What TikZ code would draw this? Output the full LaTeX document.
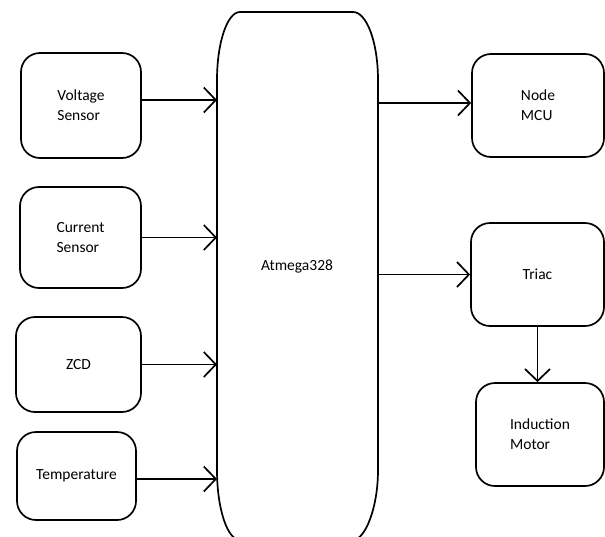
\documentclass[tikz,border=0pt]{standalone}
\usepackage{fontspec}
\setmainfont{Carlito}
\usetikzlibrary{arrows.meta}

\begin{document}
\begin{tikzpicture}[x=1pt,y=-1pt,line width=1.7pt,
  blk/.style={draw,rounded corners=19pt,align=left,inner sep=0pt,
    font=\fontsize{15.5}{20}\selectfont},
  arr/.style={-{Straight Barb[length=12pt,width=25pt]}}]
  \useasboundingbox (0,0) rectangle (605,536);
  % inputs
  \node[blk,minimum width=120,minimum height=105] (volt) at (81,105.5) {Voltage\\Sensor};
  \node[blk,minimum width=121,minimum height=101] (curr) at (80.5,237.5) {Current\\Sensor};
  \node[blk,minimum width=125,minimum height=95] (zcd) at (78.5,364.5) {ZCD};
  \node[blk,minimum width=119,minimum height=88] (temp) at (76.5,476) {Temperature};
  % controller
  \draw (217,80) .. controls (217,42.5) and (227.3,12) .. (240,12) -- (353,12)
    .. controls (366.8,12) and (378,42.5) .. (378,80) -- (378,470)
    .. controls (378,508.6) and (364.8,540) .. (353,540) -- (240,540)
    .. controls (227.3,540) and (217,508.6) .. (217,470) -- cycle;
  \node[font=\fontsize{15.5}{20}\selectfont] (atm) at (297,267) {Atmega328};
  \coordinate (aw) at (217,268);
  \coordinate (ae) at (378,268);
  % outputs
  \node[blk,minimum width=132,minimum height=103] (nmcu) at (538,105.5) {Node\\MCU};
  \node[blk,minimum width=133,minimum height=103] (triac) at (537.5,274.5) {Triac};
  \node[blk,minimum width=128,minimum height=103] (motor) at (540,434.5) {Induction\\Motor};
  % links
  \draw[arr] ([yshift=5.5pt]volt.east) -- ([yshift=5.5pt]volt.east -| aw);
  \draw[arr] (curr.east) -- (curr.east -| aw);
  \draw[arr] (zcd.east) -- (zcd.east -| aw);
  \draw[arr] ([yshift=-3pt]temp.east) -- ([yshift=-3pt]temp.east -| aw);
  \draw[arr] ([yshift=2.5pt]ae |- nmcu.west) -- ([yshift=2.5pt]nmcu.west);
  \draw[arr] (ae |- triac.west) -- (triac.west);
  \draw[arr] (triac.south) -- (triac.south |- motor.north);
\end{tikzpicture}
\end{document}
